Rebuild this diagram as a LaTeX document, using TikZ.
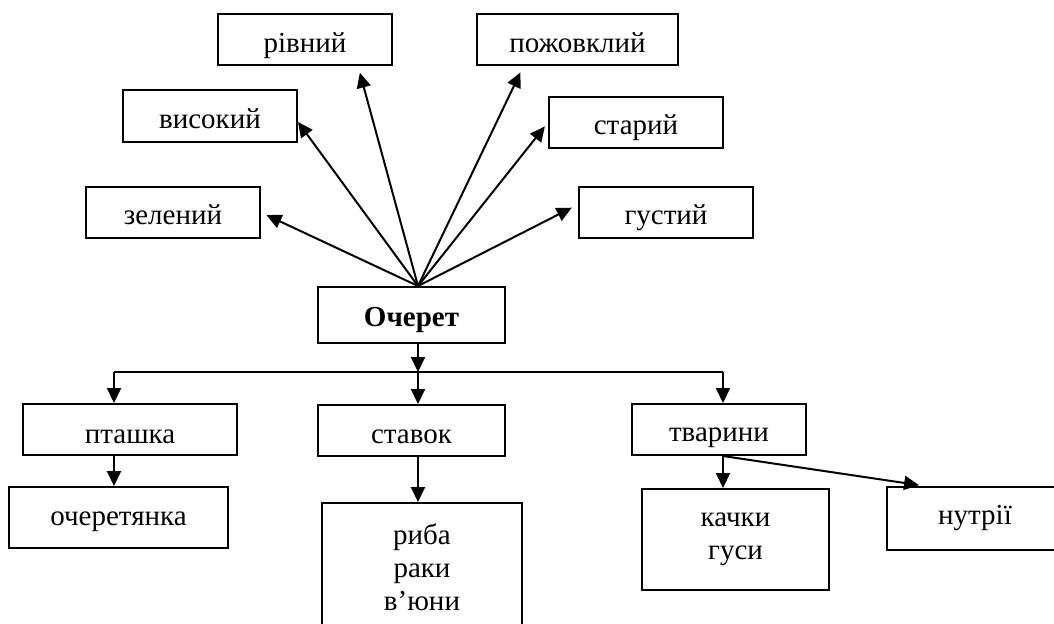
\documentclass[tikz,border=0pt]{standalone}
\usepackage{fontspec}
\setmainfont{Liberation Serif}
\usetikzlibrary{arrows.meta}

\begin{document}
\begin{tikzpicture}[x=0.5pt,y=-0.5pt,
        box/.style={draw,line width=1pt,inner sep=0pt,align=center,font=\fontsize{14.5}{16.5}\selectfont},
        word/.style={box,text height=12.5pt,text depth=0pt},
        arr/.style={-{Triangle[length=7.5pt,width=7pt]},line width=1pt}]
            \clip (0,0) rectangle (1054,623);
            \fill[white] (0,0) rectangle (1054,623);
            % top row of words
            \node[word,minimum width=87pt,minimum height=25.5pt] (riv) at (305,39.5) {рівний};
            \node[word,minimum width=100.5pt,minimum height=25.5pt] (poz) at (577.5,39.5) {пожовклий};
            \node[word,minimum width=87pt,minimum height=26pt] (vys) at (210,116) {високий};
            \node[word,text height=12pt,minimum width=87pt,minimum height=25.5pt] (star) at (636,122.5) {старий};
            \node[word,text height=11.5pt,minimum width=87pt,minimum height=25.5pt] (zel) at (173,212.5) {зелений};
            \node[word,text height=11.5pt,minimum width=87pt,minimum height=25.5pt] (gus) at (666,212.5) {густий};
            \node[word,text height=11.5pt,minimum width=93.5pt,minimum height=28pt,font=\fontsize{14.5}{16.5}\selectfont\bfseries] (och) at (411.5,315) {Очерет};

            \coordinate (hub) at (418,286);
            \draw[arr,shorten >=3pt] (hub)--(zel.east);
            \draw[arr] (hub)--([yshift=-3pt]vys.east);
            \draw[arr,shorten >=3.5pt] (hub)--([xshift=26.5pt]riv.south);
            \draw[arr,shorten >=3.5pt] (hub)--([xshift=-27pt]poz.south);
            \draw[arr,shorten >=2.5pt] (hub)--(star.west);
            \draw[arr,shorten >=3.5pt] (hub)--([yshift=4pt]gus.west);

            % lower part
            \node[word,text height=13.5pt,minimum width=107pt,minimum height=25.5pt] (ptash) at (130,429.5) {пташка};
            \node[word,minimum width=93.5pt,minimum height=25.5pt] (stav) at (411.5,430.5) {ставок};
            \node[word,text height=12pt,minimum width=87pt,minimum height=25.5pt] (tvar) at (719,429.5) {тварини};
            \node[word,text height=8pt,minimum width=109.5pt,minimum height=30.5pt] (ochy) at (118.5,517.5) {очеретянка};
            \node[box,minimum width=100pt,minimum height=64pt] (ryba) at (422,567) {риба\\раки\\в’юни};
            \node[box,minimum width=93.5pt,minimum height=50.5pt] (kach) at (735.5,539.5) {качки\\гуси};
            \node[word,text height=5.5pt,minimum width=88pt,minimum height=31.5pt] (nutr) at (975,518.5) {нутрії};

            \coordinate (busl) at (114,372);
            \coordinate (busm) at (418,372);
            \coordinate (busr) at (723,372);
            \draw[arr] (och.south -| busm)--(busm);
            \draw[line width=1pt] (busl)--(busr);
            \draw[arr] (busl)--(ptash.north -| busl);
            \draw[arr] (busm)--(stav.north -| busm);
            \draw[arr] (busr)--(tvar.north -| busr);
            \draw[arr] (ptash.south -| busl)--(ochy.north -| busl);
            \draw[arr] (stav.south -| busm)--(ryba.north -| busm);
            \draw[arr] (tvar.south -| busr)--(kach.north -| busr);
            \draw[arr,shorten >=3pt] (tvar.south -| busr)--([xshift=-25pt]nutr.north);
        \end{tikzpicture}
\end{document}
